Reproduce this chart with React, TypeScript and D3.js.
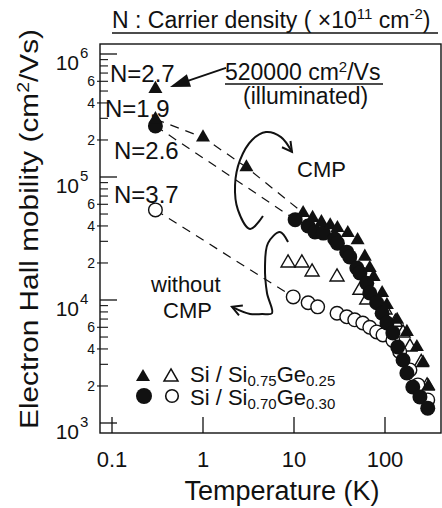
import React from "react";
import * as d3 from "d3";

// Temperature (K) and electron Hall mobility (cm^2/Vs).
// Si / Si0.75Ge0.25 with CMP (filled triangles)
const triCmpT = [12.6, 16, 20, 25, 30, 39, 50, 60, 68, 75, 93, 105, 136, 174, 224, 262, 300];
const triCmpMu = [51000, 46500, 43000, 40500, 38500, 35000, 30700, 22500, 18200, 15400, 11400, 9100, 6900, 5500, 4150, 3100, 2000];
const triLowT = [0.3, 1, 3];
const triLowMu = [295000, 210000, 120000];
// illuminated point
const illumT = [0.3];
const illumMu = [520000];

// Si / Si0.70Ge0.30 with CMP (filled circles)
const circCmpT = [10.3, 14.3, 17, 21, 28, 30, 38, 41, 49, 53, 63, 68, 81, 93, 105, 122, 138, 158, 174, 202, 242, 295];
const circCmpMu = [45000, 40000, 35700, 35000, 31300, 29000, 24500, 22400, 18200, 16600, 13700, 11400, 9500, 7800, 6500, 5400, 4150, 3250, 2550, 1960, 1630, 1320];
const circLowT = [0.3];
const circLowMu = [260000];

// without CMP (open symbols)
const triNoT = [8.6, 12.2, 15.8, 29.7, 53, 63, 100, 130, 158, 188, 250, 290];
const triNoMu = [20000, 20000, 16900, 15400, 12000, 10000, 8300, 6600, 5400, 4150, 3100, 2000];
const circNoT = [9.8, 14.3, 18.2, 29.7, 38, 46.5, 57, 68, 81, 95, 122, 145, 188, 230, 295];
const circNoMu = [10600, 9500, 8800, 7800, 7300, 6900, 6500, 6000, 5500, 5200, 4700, 3800, 2700, 2040, 1540];
const circNoLowT = [0.3];
const circNoLowMu = [54000];

const xTicks = [0.1, 1, 10, 100];
const xTickLabels = ["0.1", "1", "10", "100"];
const yDecades = [3, 4, 5, 6];
const yMinorMult = [2, 3, 4, 5, 6, 7, 8, 9];
const yMinorLabelled = [2, 4, 6];

// annotation curves, in (K, cm^2/Vs)
const cmpLoop: [number, number][] = [
  [4.56, 48200], [3.29, 37800], [2.42, 54000], [2.25, 86000], [2.55, 137000],
  [3.46, 200000], [4.92, 232000], [7.2, 211000], [9.5, 160000],
];
const noCmpLoop: [number, number][] = [
  [8.6, 29600], [7.0, 35700], [5.18, 29000], [4.8, 18500], [5.05, 11400],
  [5.73, 7800], [4.45, 7700], [3.29, 7700], [2.08, 8800],
];
const illumArrow: [number, number][] = [[1.79, 770000], [0.434, 540000]];

const FONT = "'Liberation Sans', Arial, Helvetica, sans-serif";
const INK = "#111";

const zip = (a: number[], b: number[]) => a.map((v, i) => [v, b[i]] as [number, number]);

export default function App() {
  const x = d3.scaleLog().domain([0.1, 100]).range([112, 385]);
  const y = d3.scaleLog().domain([1e3, 1e6]).range([423, 54]);
  const L = 100, R = 441, T = 44, B = 433;

  const triPath = d3.symbol(d3.symbolTriangle, 85)()!;
  const straight = d3.line<[number, number]>().x(d => x(d[0])).y(d => y(d[1]));
  const smooth = d3
    .line<[number, number]>()
    .x(d => x(d[0]))
    .y(d => y(d[1]))
    .curve(d3.curveCatmullRom.alpha(0.5));

  const minors: number[] = [];
  [3, 4, 5].forEach(e => yMinorMult.forEach(k => minors.push(k * Math.pow(10, e))));

  const dashTri = [...zip(triLowT, triLowMu), [triCmpT[0], triCmpMu[0]] as [number, number]];
  const dashCirc = [...zip(circLowT, circLowMu), [circCmpT[0], circCmpMu[0]] as [number, number]];
  const dashOpen = [...zip(circNoLowT, circNoLowMu), [circNoT[0], circNoMu[0]] as [number, number]];

  const openHead = (pts: [number, number][], len = 11, spread = 0.5) => {
    const a = pts[pts.length - 2], b = pts[pts.length - 1];
    const x1 = x(a[0]), y1 = y(a[1]), x2 = x(b[0]), y2 = y(b[1]);
    const ang = Math.atan2(y2 - y1, x2 - x1);
    const p = (s: number) => `${x2 - len * Math.cos(ang + s)},${y2 - len * Math.sin(ang + s)}`;
    return `M${p(spread)}L${x2},${y2}L${p(-spread)}`;
  };
  const filledHead = (pts: [number, number][], len = 20, half = 6.5) => {
    const a = pts[0], b = pts[1];
    const x1 = x(a[0]), y1 = y(a[1]), x2 = x(b[0]), y2 = y(b[1]);
    const ang = Math.atan2(y2 - y1, x2 - x1);
    const bx = x2 - len * Math.cos(ang), by = y2 - len * Math.sin(ang);
    const nx = -Math.sin(ang) * half, ny = Math.cos(ang) * half;
    return `M${x2},${y2}L${bx + nx},${by + ny}L${bx - nx},${by - ny}Z`;
  };

  const illumStart = illumArrow[0];
  const illumBase = (() => {
    const x1 = x(illumArrow[0][0]), y1 = y(illumArrow[0][1]);
    const x2 = x(illumArrow[1][0]), y2 = y(illumArrow[1][1]);
    const ang = Math.atan2(y2 - y1, x2 - x1);
    return [x2 - 18 * Math.cos(ang), y2 - 18 * Math.sin(ang)];
  })();

  return (
    <svg
      width={442}
      height={508}
      style={{ position: "absolute", left: 0, top: 0, background: "#fff" }}
      fontFamily={FONT}
    >
      <rect x={0} y={0} width={442} height={508} fill="#fff" />

      {/* title */}
      <text x={112} y={28} fontSize={23} fill={INK}>
        N : Carrier density ( ×10
        <tspan fontSize={15} dy={-9}>11</tspan>
        <tspan dy={9}> cm</tspan>
        <tspan fontSize={15} dy={-9}>-2</tspan>
        <tspan dy={9}>)</tspan>
      </text>
      <line x1={112} x2={438} y1={33} y2={33} stroke={INK} strokeWidth={1.3} />

      {/* frame */}
      <rect x={L} y={T} width={R - L} height={B - T} fill="none" stroke={INK} strokeWidth={1.4} />

      {/* y ticks */}
      {yDecades.map(e => {
        const v = Math.pow(10, e);
        return (
          <g key={"yd" + e}>
            <line x1={L} x2={L + 17} y1={y(v)} y2={y(v)} stroke={INK} strokeWidth={1.3} />
            <text x={79} y={y(v) + 16} fontSize={21} textAnchor="end" fill={INK}>10</text>
            <text x={80} y={y(v) + 4} fontSize={15} fill={INK}>{e}</text>
          </g>
        );
      })}
      {minors.map(v => {
        const k = Math.round(v / Math.pow(10, Math.floor(Math.log10(v) + 1e-9)));
        const lab = yMinorLabelled.includes(k);
        return (
          <g key={"ym" + v}>
            <line x1={lab ? L - 3 : L} x2={L + 8} y1={y(v)} y2={y(v)} stroke={INK} strokeWidth={1.1} />
            {lab && (
              <text x={95} y={y(v) + 5} fontSize={14} textAnchor="end" fill={INK}>{k}</text>
            )}
          </g>
        );
      })}

      {/* x ticks */}
      {xTicks.map((t, i) => (
        <g key={"xt" + t}>
          <line x1={x(t)} x2={x(t)} y1={B} y2={B - 16} stroke={INK} strokeWidth={1.3} />
          <text x={x(t)} y={467} fontSize={22} textAnchor="middle" fill={INK}>{xTickLabels[i]}</text>
        </g>
      ))}

      {/* axis titles */}
      <text x={282} y={500} fontSize={27} textAnchor="middle" fill={INK}>Temperature (K)</text>
      <text
        transform="translate(38,229) rotate(-90)"
        fontSize={26}
        textAnchor="middle"
        textLength={400}
        lengthAdjust="spacingAndGlyphs"
        fill={INK}
      >
        Electron Hall mobility (cm
        <tspan fontSize={17} dy={-9}>2</tspan>
        <tspan dy={9}>/Vs)</tspan>
      </text>

      {/* dashed extrapolations */}
      {[dashTri, dashCirc, dashOpen].map((d, i) => (
        <path key={"ds" + i} d={straight(d)!} fill="none" stroke={INK} strokeWidth={1.2} strokeDasharray="9 7" />
      ))}

      {/* open symbols */}
      {zip(triNoT, triNoMu).map(([t, m], i) => (
        <path key={"to" + i} d={triPath} transform={`translate(${x(t)},${y(m)})`} fill="#fff" stroke={INK} strokeWidth={1.4} />
      ))}
      {zip(circNoT, circNoMu).map(([t, m], i) => (
        <circle key={"co" + i} cx={x(t)} cy={y(m)} r={6.8} fill="#fff" stroke={INK} strokeWidth={1.4} />
      ))}
      {zip(circNoLowT, circNoLowMu).map(([t, m], i) => (
        <circle key={"col" + i} cx={x(t)} cy={y(m)} r={6.8} fill="#fff" stroke={INK} strokeWidth={1.4} />
      ))}

      {/* filled symbols */}
      {zip(circCmpT, circCmpMu).concat(zip(circLowT, circLowMu)).map(([t, m], i) => (
        <circle key={"cf" + i} cx={x(t)} cy={y(m)} r={7.5} fill={INK} />
      ))}
      {zip(triCmpT, triCmpMu).concat(zip(triLowT, triLowMu), zip(illumT, illumMu)).map(([t, m], i) => (
        <path key={"tf" + i} d={triPath} transform={`translate(${x(t)},${y(m)})`} fill={INK} />
      ))}

      {/* N labels */}
      <text x={110} y={82} fontSize={24} fill={INK}>N=2.7</text>
      <text x={105} y={117} fontSize={24} fill={INK}>N=1.9</text>
      <text x={114} y={159} fontSize={24} fill={INK}>N=2.6</text>
      <text x={114} y={203} fontSize={24} fill={INK}>N=3.7</text>

      {/* illuminated annotation */}
      <text x={225} y={80} fontSize={23} fill={INK}>
        520000 cm
        <tspan fontSize={15} dy={-8}>2</tspan>
        <tspan dy={8}>/Vs</tspan>
      </text>
      <line x1={225} x2={383} y1={84} y2={84} stroke={INK} strokeWidth={1.3} />
      <text x={243} y={104} fontSize={23} fill={INK}>(illuminated)</text>
      <line
        x1={x(illumStart[0])}
        y1={y(illumStart[1])}
        x2={illumBase[0]}
        y2={illumBase[1]}
        stroke={INK}
        strokeWidth={1.8}
      />
      <path d={filledHead(illumArrow)} fill={INK} />

      {/* CMP loops */}
      <path d={smooth(cmpLoop)!} fill="none" stroke={INK} strokeWidth={2} />
      <path d={openHead(cmpLoop)} fill="none" stroke={INK} strokeWidth={2} />
      <text x={297} y={177} fontSize={22} fill={INK}>CMP</text>

      <path d={smooth(noCmpLoop)!} fill="none" stroke={INK} strokeWidth={2} />
      <path d={openHead(noCmpLoop)} fill="none" stroke={INK} strokeWidth={2} />
      <text x={151} y={292} fontSize={22} fill={INK}>without</text>
      <text x={163} y={318} fontSize={22} fill={INK}>CMP</text>

      {/* legend */}
      <path d={triPath} transform="translate(143,377)" fill={INK} />
      <path d={triPath} transform="translate(171,377)" fill="#fff" stroke={INK} strokeWidth={1.5} />
      <text x={190} y={382} fontSize={22} fill={INK}>
        Si / Si
        <tspan fontSize={15} dy={4}>0.75</tspan>
        <tspan dy={-4}>Ge</tspan>
        <tspan fontSize={15} dy={4}>0.25</tspan>
      </text>
      <circle cx={144} cy={396} r={8} fill={INK} />
      <circle cx={172} cy={396} r={6.3} fill="#fff" stroke={INK} strokeWidth={1.6} />
      <text x={190} y={405} fontSize={22} fill={INK}>
        Si / Si
        <tspan fontSize={15} dy={4}>0.70</tspan>
        <tspan dy={-4}>Ge</tspan>
        <tspan fontSize={15} dy={4}>0.30</tspan>
      </text>
    </svg>
  );
}
